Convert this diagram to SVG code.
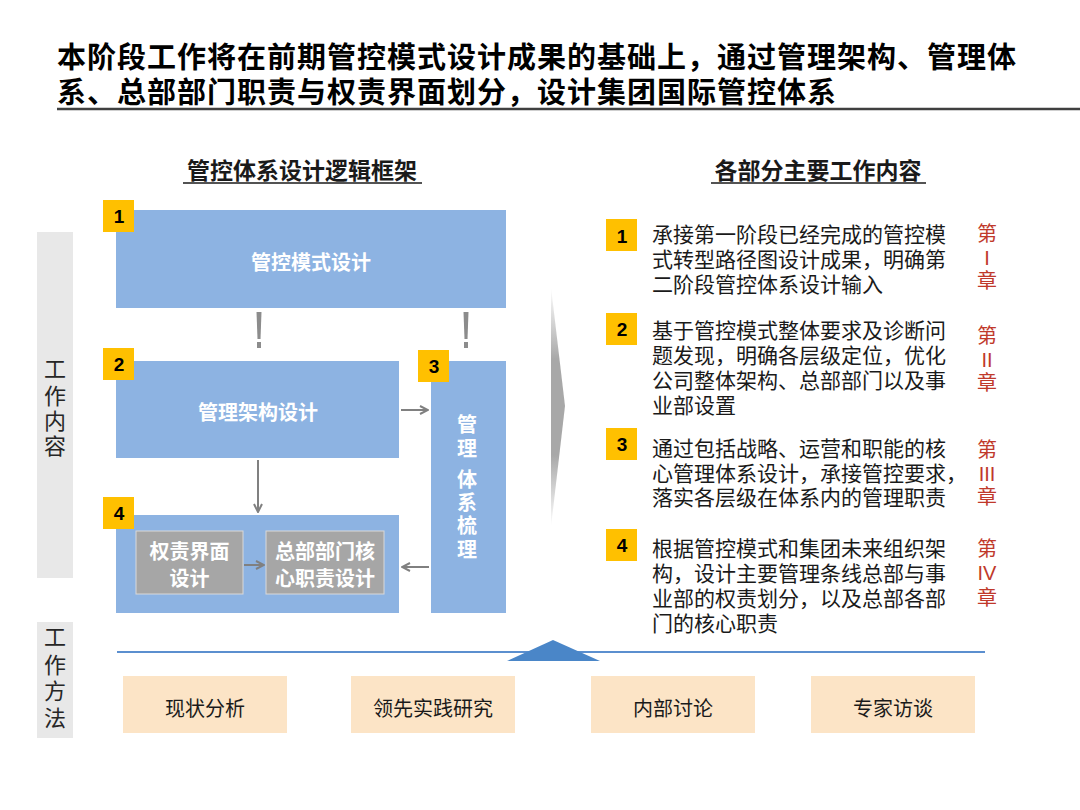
<svg xmlns="http://www.w3.org/2000/svg" width="1080" height="810" viewBox="0 0 1080 810">
<style>
text{font-family:"Liberation Sans","Noto Sans CJK SC",sans-serif;}
.title{font-size:29px;font-weight:bold;fill:#000;letter-spacing:1px;}
.sub{font-size:23px;font-weight:bold;fill:#1a1a1a;text-anchor:middle;}
.box{fill:#8DB3E2;}
.badge{fill:#FFC000;}
.bnum{font-size:19px;font-weight:bold;fill:#000;text-anchor:middle;}
.wt{font-size:20px;font-weight:bold;fill:#fff;text-anchor:middle;}
.inner{fill:#A6A6A6;stroke:#D9D9D9;stroke-width:1;}
.body{font-size:21px;fill:#1a1a1a;}
.chap{font-size:20px;fill:#C0392B;text-anchor:middle;}
.side{fill:#E8E8E8;}
.sidet{font-size:22px;fill:#262626;text-anchor:middle;}
.meth{fill:#FCE4C6;}
.metht{font-size:20px;fill:#1a1a1a;text-anchor:middle;}
.conn{stroke:#808080;stroke-width:2;fill:none;}
</style>
<defs>
<marker id="ah" viewBox="0 0 10 10" refX="9" refY="5" markerWidth="5" markerHeight="5" orient="auto">
<path d="M1,1 L9,5 L1,9" fill="none" stroke="#808080" stroke-width="2"/>
</marker>
<linearGradient id="gbig" x1="0" y1="0" x2="0" y2="1">
<stop offset="0" stop-color="#ffffff"/>
<stop offset="0.3" stop-color="#a8a8a8"/>
<stop offset="0.7" stop-color="#a8a8a8"/>
<stop offset="1" stop-color="#ffffff"/>
</linearGradient>
</defs>
<rect width="1080" height="810" fill="#fff"/>

<g id="title">
<text class="title" x="57" y="68">本阶段工作将在前期管控模式设计成果的基础上，通过管理架构、管理体</text>
<text class="title" x="57" y="103">系、总部部门职责与权责界面划分，设计集团国际管控体系</text>
<line x1="57" y1="109" x2="1080" y2="109" stroke="#404040" stroke-width="2.5"/>
</g>

<g id="subtitles">
<text class="sub" x="302" y="179">管控体系设计逻辑框架</text>
<line x1="183" y1="183" x2="422" y2="183" stroke="#1a1a1a" stroke-width="1.5"/>
<text class="sub" x="818" y="179">各部分主要工作内容</text>
<line x1="711" y1="183" x2="926" y2="183" stroke="#1a1a1a" stroke-width="1.5"/>
</g>

<g id="side-labels">
<rect class="side" x="37" y="232" width="36" height="346"/>
<text class="sidet" x="55" y="377">工</text>
<text class="sidet" x="55" y="404">作</text>
<text class="sidet" x="55" y="429">内</text>
<text class="sidet" x="55" y="454">容</text>
<rect class="side" x="37" y="622" width="36" height="116"/>
<text class="sidet" x="55" y="645">工</text>
<text class="sidet" x="55" y="673">作</text>
<text class="sidet" x="55" y="699">方</text>
<text class="sidet" x="55" y="726">法</text>
</g>

<g id="node1">
<rect class="box" x="116" y="210" width="390" height="98"/>
<text class="wt" x="311" y="270" font-size="21">管控模式设计</text>
<rect class="badge" x="103" y="200" width="31" height="32"/>
<text class="bnum" x="119" y="223">1</text>
</g>

<g id="node2">
<rect class="box" x="116" y="361" width="283" height="97"/>
<text class="wt" x="258" y="420">管理架构设计</text>
<rect class="badge" x="103" y="348" width="31" height="32"/>
<text class="bnum" x="119" y="371">2</text>
</g>

<g id="node3">
<rect class="box" x="431" y="361" width="75" height="252"/>
<text class="wt" x="467" y="432">管</text>
<text class="wt" x="467" y="456">理</text>
<text class="wt" x="467" y="487">体</text>
<text class="wt" x="467" y="510">系</text>
<text class="wt" x="467" y="533">梳</text>
<text class="wt" x="467" y="557">理</text>
<rect class="badge" x="418" y="350" width="31" height="32"/>
<text class="bnum" x="434" y="373">3</text>
</g>

<g id="node4">
<rect class="box" x="116" y="515" width="283" height="98"/>
<rect class="badge" x="103" y="497" width="31" height="32"/>
<text class="bnum" x="119" y="520">4</text>
<g id="node4a">
<rect class="inner" x="136" y="531" width="107" height="63"/>
<text class="wt" x="189.5" y="559">权责界面</text>
<text class="wt" x="189.5" y="586">设计</text>
</g>
<g id="node4b">
<rect class="inner" x="266" y="531" width="118" height="63"/>
<text class="wt" x="325" y="559">总部部门核</text>
<text class="wt" x="325" y="586">心职责设计</text>
</g>
</g>

<g id="connectors">
<polygon points="256.5,312 261.5,312 260.5,339 257.5,339" fill="#8c8c8c"/>
<rect x="257" y="342" width="4" height="6" fill="#8c8c8c"/>
<polygon points="463.5,312 468.5,312 467.5,339 464.5,339" fill="#8c8c8c"/>
<rect x="464" y="342" width="4" height="6" fill="#8c8c8c"/>
<line class="conn" x1="401" y1="410" x2="428" y2="410" marker-end="url(#ah)"/>
<line class="conn" x1="258" y1="460" x2="258" y2="512" marker-end="url(#ah)"/>
<line class="conn" x1="429" y1="567" x2="402" y2="567" marker-end="url(#ah)"/>
<line class="conn" x1="244" y1="565" x2="264" y2="565" marker-end="url(#ah)"/>
<polygon points="551,287 565,406 551,527" fill="url(#gbig)"/>
<line x1="117" y1="652" x2="985" y2="652" stroke="#5B8FCF" stroke-width="2"/>
<polygon points="553,640 600,661 507,661" fill="#4A86C8"/>
</g>

<g id="item1">
<rect class="badge" x="606" y="219" width="31" height="32"/>
<text class="bnum" x="622" y="243">1</text>
<text class="body" x="652" y="242">承接第一阶段已经完成的管控模</text>
<text class="body" x="652" y="267">式转型路径图设计成果，明确第</text>
<text class="body" x="652" y="292">二阶段管控体系设计输入</text>
<text class="chap" x="987" y="241">第</text>
<text class="chap" x="987" y="265">I</text>
<text class="chap" x="987" y="288">章</text>
</g>

<g id="item2">
<rect class="badge" x="606" y="313" width="31" height="32"/>
<text class="bnum" x="622" y="336">2</text>
<text class="body" x="652" y="338">基于管控模式整体要求及诊断问</text>
<text class="body" x="652" y="363">题发现，明确各层级定位，优化</text>
<text class="body" x="652" y="388">公司整体架构、总部部门以及事</text>
<text class="body" x="652" y="413">业部设置</text>
<text class="chap" x="987" y="343">第</text>
<text class="chap" x="987" y="367">II</text>
<text class="chap" x="987" y="390">章</text>
</g>

<g id="item3">
<rect class="badge" x="606" y="428" width="31" height="32"/>
<text class="bnum" x="622" y="451">3</text>
<text class="body" x="652" y="456">通过包括战略、运营和职能的核</text>
<text class="body" x="652" y="481">心管理体系设计，承接管控要求，</text>
<text class="body" x="652" y="505">落实各层级在体系内的管理职责</text>
<text class="chap" x="987" y="457">第</text>
<text class="chap" x="987" y="481">III</text>
<text class="chap" x="987" y="504">章</text>
</g>

<g id="item4">
<rect class="badge" x="606" y="529" width="31" height="32"/>
<text class="bnum" x="622" y="552">4</text>
<text class="body" x="652" y="556">根据管控模式和集团未来组织架</text>
<text class="body" x="652" y="581">构，设计主要管理条线总部与事</text>
<text class="body" x="652" y="606">业部的权责划分，以及总部各部</text>
<text class="body" x="652" y="631">门的核心职责</text>
<text class="chap" x="987" y="556">第</text>
<text class="chap" x="987" y="580">IV</text>
<text class="chap" x="987" y="605">章</text>
</g>

<g id="method1"><rect class="meth" x="123" y="676" width="164" height="57"/><text class="metht" x="205" y="716">现状分析</text></g>
<g id="method2"><rect class="meth" x="351" y="676" width="164" height="57"/><text class="metht" x="433" y="716">领先实践研究</text></g>
<g id="method3"><rect class="meth" x="591" y="676" width="164" height="57"/><text class="metht" x="673" y="716">内部讨论</text></g>
<g id="method4"><rect class="meth" x="811" y="676" width="164" height="57"/><text class="metht" x="893" y="716">专家访谈</text></g>
</svg>
